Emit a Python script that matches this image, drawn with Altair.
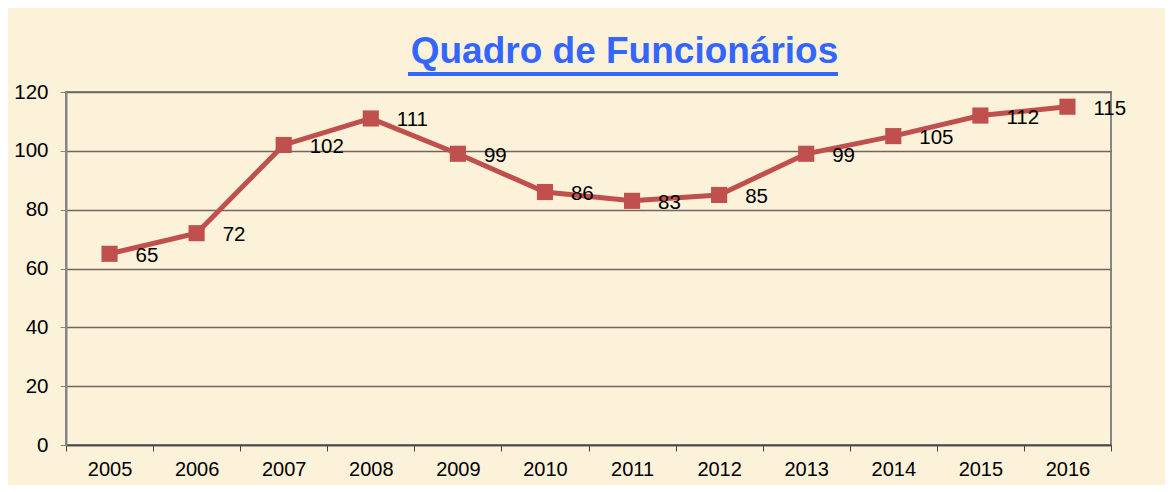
import altair as alt
import pandas as pd

years = ["2005", "2006", "2007", "2008", "2009", "2010", "2011", "2012", "2013", "2014", "2015", "2016"]
values = [65, 72, 102, 111, 99, 86, 83, 85, 99, 105, 112, 115]
y_ticks = [0, 20, 40, 60, 80, 100, 120]

df = pd.DataFrame({"year": years, "value": values})

FONT = "Liberation Sans"
RED = "#C0504D"

x_enc = alt.X(
    "year:O",
    bandPosition=0.5,
    scale=alt.Scale(type="band", paddingInner=0, paddingOuter=0),
    axis=alt.Axis(
        title=None, labelAngle=0, tickBand="extent", tickSize=6, tickColor="#444444",
        domainColor="#444444", domainWidth=1.5, labelPadding=8, labelFontSize=20,
        labelFont=FONT, labelColor="#000000", grid=False,
    ),
)
y_enc = alt.Y(
    "value:Q",
    scale=alt.Scale(domain=[0, 120], nice=False),
    axis=alt.Axis(
        title=None, values=y_ticks, tickSize=6, tickColor="#868686", domainColor="#868686",
        domainWidth=2, labelPadding=12, labelFontSize=20.5, labelFont=FONT, labelColor="#000000",
        grid=True, gridColor="#6f675b", gridWidth=1.5,
    ),
)

base = alt.Chart(df).encode(x=x_enc, y=y_enc)

line = base.mark_line(color=RED, strokeWidth=5)
points = base.mark_square(color=RED, size=260, opacity=1, filled=True)
labels = base.mark_text(align="left", baseline="middle", dx=26, dy=2, fontSize=20.5, font=FONT,
                        color="#000000").encode(text="value:Q")
underline = alt.Chart(df).mark_rule(color="#3366FF", strokeWidth=3, clip=False).encode(
    x=alt.value(342), x2=alt.value(772), y=alt.value(-18)
)

chart = alt.layer(line, points, labels, underline).properties(
    width=1045,
    height=353,
    title=alt.TitleParams(
        "Quadro de Funcionários", fontSize=37, font=FONT, fontWeight="bold", color="#3366FF",
        anchor="middle", dx=36, offset=2,
    ),
    background="#FCF1D9",
    padding={"left": 58, "top": 84, "right": 54, "bottom": 40},
    autosize=alt.AutoSizeParams(type="none"),
).configure_view(stroke="#868686", strokeWidth=2)

chart.save("out.html", embed_options={"renderer": "svg", "actions": False})
